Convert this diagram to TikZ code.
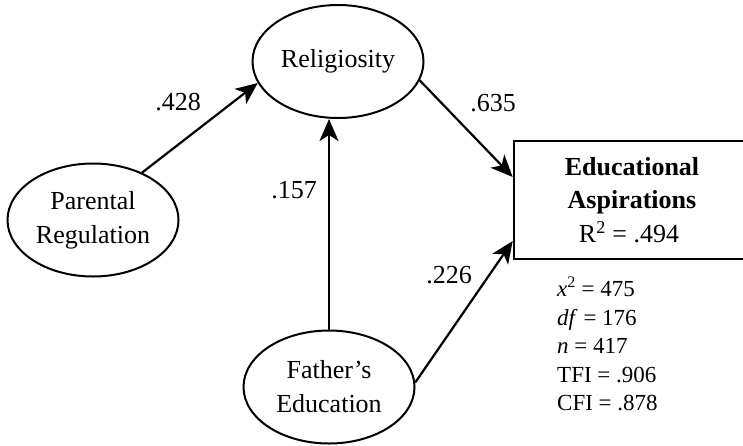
\documentclass[tikz,border=0pt]{standalone}
\usepackage{fontspec}
\setmainfont{Liberation Serif}
\usetikzlibrary{shapes.geometric,arrows.meta}

\begin{document}
\begin{tikzpicture}[x=1pt,y=-1pt,
    latent/.style={draw,ellipse,line width=2pt,minimum width=171pt,minimum height=113pt,inner sep=0pt,align=center},
    observed/.style={draw,rectangle,line width=2.6pt,minimum width=236pt,minimum height=118pt,inner sep=0pt,align=center},
    link/.style={line width=2.2pt,-{Stealth[length=22pt,width=19pt,inset=6pt]}},
    font=\fontsize{26}{34}\selectfont]
    \useasboundingbox (0,0) rectangle (743,445);
    \node[latent] (rel) at (338,61.5) {Religiosity};
    \node[latent] (par) at (93,220) {Parental\\Regulation};
    \node[latent] (fat) at (329,387) {Father's\\Education};
    \node[observed,font=\fontsize{26}{33.5}\selectfont] (edu) at (632,200)
        {\textbf{Educational}\\\textbf{Aspirations}\\R\textsuperscript{2} = .494\hspace*{6pt}};
    \node (c1) at (178,102) {.428};
    \node (c2) at (493,103) {.635};
    \node (c3) at (294,190) {.157};
    \node (c4) at (449,275) {.226};
    \node[align=left,anchor=north west,inner sep=0pt,font=\fontsize{23}{28.5}\selectfont] (fit) at (557,277)
        {\textit{x}\textsuperscript{2} = 475\\\textit{df} = 176\\\textit{n} = 417\\TFI = .906\\CFI = .878};
    \draw[link] (par.44) -- (rel.195);
    \draw[link] (rel.-13) -- ([yshift=23pt]edu.west);
    \draw[link] (fat.north) -- (fat.north |- rel.south);
    \draw[link] (fat.3) -- ([yshift=-41pt]edu.west);
\end{tikzpicture}
\end{document}
